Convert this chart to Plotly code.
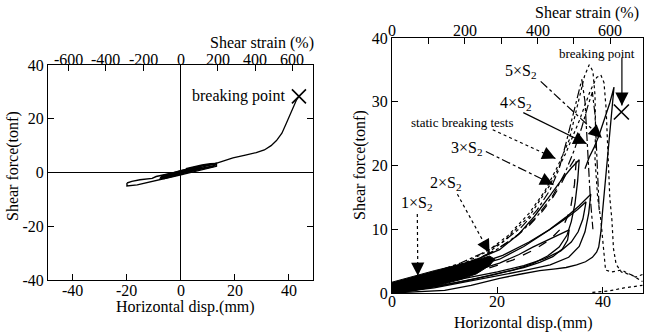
import plotly.graph_objects as go

W, H = 654, 336
FONT = "Liberation Serif"
T_RUBBER = 6.9  # mm, total rubber thickness used for the shear strain scale

# ---------------- left panel: breaking test ----------------
left_main_d = [0, 6, 12, 16, 19.4, 24, 28, 31, 33.5, 35.5, 37.5, 39.1, 40.5, 41.6, 42.8, 43.8]
left_main_f = [0, 1.5, 3.0, 4.3, 5.4, 6.5, 7.4, 8.4, 10.0, 11.9, 14.6, 18.2, 21.5, 24.2, 26.8, 28.3]

left_outer_d = [-19.8, -18, -15, -12, -10.5, -9, -6, -3, 0, 4, 8, 11, 13.3, 13.3, 11, 8, 5, 2, -1, -4, -7, -10, -13, -16, -19.8, -19.8]
left_outer_f = [-3.9, -3.3, -2.7, -2.3, -2.2, -1.5, -0.9, -0.2, 0.7, 1.7, 2.5, 3.0, 3.4, 2.3, 1.7, 1.0, 0.3, -0.4, -1.1, -1.8, -2.6, -3.3, -4.0, -4.6, -5.0, -3.9]

left_core_d = [-7, -4, -1, 2, 5, 7, 8, 6, 3, 0, -3, -6, -7.5, -7]
left_core_f = [-1.3, -0.5, 0.4, 1.2, 1.9, 2.2, 1.8, 1.0, 0.2, -0.7, -1.6, -2.3, -2.1, -1.3]

left_right_d = [2, 5, 8, 11, 13.3, 12, 9, 6, 3, 2]
left_right_f = [1.3, 2.1, 2.7, 3.1, 3.2, 2.3, 1.6, 1.0, 0.4, 1.3]

left_break = (43.8, 28.3)

left_disp_ticks = [-40, -20, 0, 20, 40]
left_force_ticks = [-40, -20, 0, 20, 40]
left_strain_ticks = [-600, -400, -200, 0, 200, 400, 600]

# ---------------- right panel: cyclic + static tests ----------------
wedge_d = [0, 2.5, 5, 8, 11, 14, 16.5, 18.5, 19.5, 18.5, 16, 13, 10, 7, 4, 1.5, 0]
wedge_f = [1.7, 2.3, 2.9, 3.5, 4.1, 4.7, 5.3, 5.8, 5.3, 4.3, 3.0, 2.1, 1.4, 0.8, 0.35, 0.1, 0]

solid_big_d = [0, 5, 10, 15, 20.4, 24, 28, 31, 33, 35, 36.7, 38, 38.8, 39.2, 39.6, 39.9, 40.3, 40.8, 41.2, 41.6, 42.1, 41.3, 40.3, 39.2, 38.3, 37.4, 36.6]
solid_big_f = [0, 0.2, 0.4, 1.2, 2.3, 2.9, 3.5, 3.8, 4.0, 4.4, 4.9, 5.6, 6.4, 7.2, 9.5, 12.5, 16, 21, 24.5, 28, 32.3, 29.8, 27.2, 24.6, 22.8, 21.3, 19.5]

solid_a_d = [0, 6, 12, 17, 20.4, 24, 27, 30, 32, 34, 35.5, 35.2, 34.7, 34.0, 33.2, 31.7, 29.5, 26.7, 23, 19, 14, 8, 3, 0]
solid_a_f = [1.0, 2.6, 4.1, 5.6, 6.8, 9.2, 12.0, 15.3, 17.6, 19.6, 20.9, 17.5, 14, 11.2, 9.1, 7.2, 5.8, 4.6, 3.6, 2.8, 1.9, 1.0, 0.3, 0]

solid_b_d = [0, 8, 15, 20.4, 25, 29.8, 33, 35.5, 37.7, 37.3, 36.6, 35.5, 33.5, 30, 25, 20, 14, 8, 0]
solid_b_f = [0.7, 2.5, 4.1, 5.3, 7.3, 9.9, 11.9, 13.7, 15.5, 12.5, 9.6, 7.3, 5.6, 4.4, 3.5, 2.7, 1.7, 0.8, 0]

solid_c_d = [0, 10, 16, 20.4, 24, 26.7, 29, 31, 33.6, 33.3, 32.3, 30.5, 28, 25, 21, 16, 9, 0]
solid_c_f = [0.5, 2.4, 3.6, 4.7, 6.0, 7.2, 8.1, 9.0, 9.9, 8.3, 6.9, 5.7, 4.8, 4.0, 3.2, 2.3, 1.1, 0]

solid_e_d = [0, 9, 16, 21, 26, 30, 33, 35.2, 36.8, 36.2, 35.3, 34, 32, 29, 25, 20, 14, 7, 0]
solid_e_f = [0.9, 2.9, 4.5, 5.9, 8.0, 10.0, 11.7, 13.1, 14.3, 11.6, 9.6, 8.0, 6.6, 5.4, 4.3, 3.3, 2.3, 1.2, 0.2]

dash_a_d = [8, 14, 19, 23, 26, 28.5, 30.5, 32, 33.5, 35, 34.6, 33.8, 32.5, 30, 27, 23, 18, 12, 5, 0]
dash_a_f = [2.8, 4.6, 6.4, 8.5, 10.6, 12.8, 15, 17, 19.5, 21.5, 17, 13, 10.5, 8.4, 6.8, 5.2, 3.8, 2.4, 1.0, 0.3]

dashdot_a_d = [3, 8, 13, 17, 21, 24.5, 27.5, 30, 31.7, 33, 34.2, 35.2, 36, 36.6, 36.9, 37.2, 37.6, 38.1]
dashdot_a_f = [1.8, 3.2, 4.7, 6.2, 8.0, 10.3, 13.0, 16.2, 19.5, 23.5, 27.5, 31, 33.5, 30, 25, 20, 15, 10]

dashdot_b_d = [5, 10, 15, 20, 24, 27.5, 30.5, 32.8, 34.6, 36, 37.2, 38, 38.5, 38.8, 39, 39.3]
dashdot_b_f = [1.8, 3.2, 4.8, 6.9, 9.2, 12, 15.3, 18.8, 22.5, 26, 29.5, 31.5, 28, 23, 18, 13]

dot_a_d = [0, 8, 14, 18, 22, 26, 29, 31.5, 33.6, 35.5, 36.5, 37.4, 38.1, 38.5, 38.6, 38.5, 39, 39.6, 40.2, 40.5, 41.7, 43.5, 46.2, 47.5]
dot_a_f = [1, 3, 4.8, 6.5, 9, 12.5, 16, 20, 24, 30.3, 34, 35.8, 34.8, 31, 26, 21, 15, 11.5, 6, 3.6, 3.3, 3.6, 2.5, 2.9]

dot_b_d = [0, 10, 16, 21, 26, 30, 33, 35.5, 37.5, 38.8, 39.6, 40.2, 40.6, 40.9, 41.3, 41.7, 42, 42.5, 43.5, 45.5, 47.5]
dot_b_f = [0.8, 3, 5, 8, 12, 17, 22, 27, 31.5, 33.8, 34.2, 33, 29, 22, 15, 11.5, 7, 4.5, 3.3, 2.8, 1.8]

dot_c_d = [38, 41, 44, 47.5]
dot_c_f = [0.1, 0.3, 0.8, 1.2]

right_break = (43.5, 28.4)

right_disp_ticks = [0, 20, 40]
right_force_ticks = [0, 10, 20, 30, 40]
right_strain_ticks = [0, 100, 200, 300, 400, 500, 600]
right_strain_labels = [0, 200, 400, 600]

# labels: (text, x, y, size)
right_labels = [
    ("5×S<sub>2</sub>", 24.5, 34.7, 16),
    ("4×S<sub>2</sub>", 23.6, 29.8, 16),
    ("static breaking tests", 13.4, 26.7, 13),
    ("3×S<sub>2</sub>", 14.2, 22.6, 16),
    ("2×S<sub>2</sub>", 10.3, 17.2, 16),
    ("1×S<sub>2</sub>", 4.7, 14.1, 16),
    ("breaking point", 38.9, 37.6, 13),
]

# leader lines: (x0, y0, x1 tip, y1 tip, dash)
right_leaders = [
    (28.2, 33.2, 39.8, 24.3, "dashdot"),
    (24.9, 28.3, 36.9, 23.4, "solid"),
    (19.1, 25.6, 31.0, 21.1, "dot"),
    (17.8, 22.2, 30.6, 17.0, "dashdot"),
    (12.4, 15.5, 18.5, 6.3, "dot"),
    (4.8, 12.4, 4.9, 2.7, "dot"),
    (43.6, 36.9, 43.6, 29.4, "solid"),
]

fig = go.Figure()


def add_line(x, y, xa, ya, dash="solid", width=1.2, fill=None):
    fig.add_trace(go.Scatter(
        x=x, y=y, xaxis=xa, yaxis=ya, mode="lines",
        line=dict(color="black", width=width, dash=dash),
        fill=fill, fillcolor="black" if fill else None,
        hoverinfo="skip", showlegend=False))


def add_cross(pt, xa, ya, size):
    fig.add_trace(go.Scatter(
        x=[pt[0]], y=[pt[1]], xaxis=xa, yaxis=ya, mode="markers",
        marker=dict(symbol="x-thin-open", size=size, color="black",
                    line=dict(color="black", width=1.6)),
        hoverinfo="skip", showlegend=False))


# left panel
add_line(left_outer_d, left_outer_f, "x", "y", width=1.4)
add_line(left_core_d, left_core_f, "x", "y", width=1.3, fill="toself")
add_line(left_right_d, left_right_f, "x", "y", width=2.2)
add_line(left_main_d, left_main_f, "x", "y", width=1.3)
add_cross(left_break, "x", "y", 14)
# anchor trace for the strain axis on top of the left panel
fig.add_trace(go.Scatter(x=[0], y=[0], xaxis="x3", yaxis="y", mode="markers",
                         marker=dict(opacity=0), hoverinfo="skip", showlegend=False))

# right panel
add_line(wedge_d, wedge_f, "x2", "y2", width=1.0, fill="toself")
for d, f in [(solid_a_d, solid_a_f), (solid_b_d, solid_b_f), (solid_c_d, solid_c_f),
             (solid_e_d, solid_e_f), (solid_big_d, solid_big_f)]:
    add_line(d, f, "x2", "y2", width=1.3)
add_line(dash_a_d, dash_a_f, "x2", "y2", dash="dash", width=1.3)
add_line(dashdot_a_d, dashdot_a_f, "x2", "y2", dash="dashdot", width=1.2)
add_line(dashdot_b_d, dashdot_b_f, "x2", "y2", dash="dashdot", width=1.2)
for d, f in [(dot_a_d, dot_a_f), (dot_b_d, dot_b_f), (dot_c_d, dot_c_f)]:
    add_line(d, f, "x2", "y2", dash="dot", width=1.2)
add_cross(right_break, "x2", "y2", 15)
fig.add_trace(go.Scatter(x=[0], y=[0], xaxis="x4", yaxis="y2", mode="markers",
                         marker=dict(opacity=0), hoverinfo="skip", showlegend=False))

annotations = []
for x0, y0, x1, y1, dash in right_leaders:
    add_line([x0, x1], [y0, y1], "x2", "y2", dash=dash, width=1.2)
    # short solid tail just behind the tip carries the filled arrowhead
    tx = x1 - (x1 - x0) * 0.12
    ty = y1 - (y1 - y0) * 0.12
    annotations.append(dict(x=x1, y=y1, ax=tx, ay=ty, xref="x2", yref="y2",
                            axref="x2", ayref="y2", text="", showarrow=True,
                            arrowhead=2, arrowsize=2.2, arrowwidth=1.2, arrowcolor="black"))

for text, x, y, size in right_labels:
    annotations.append(dict(x=x, y=y, xref="x2", yref="y2", text=text, showarrow=False,
                            font=dict(family=FONT, size=size, color="black")))

annotations.append(dict(x=21.5, y=28.3, xref="x", yref="y", text="breaking point",
                        showarrow=False, font=dict(family=FONT, size=16, color="black")))


def paper(px, py):
    return px / W, 1 - py / H


title_font = dict(family=FONT, size=16, color="black")
for text, px, py, angle, xanchor in [
    ("Horizontal disp.(mm)", 185, 307, 0, "center"),
    ("Horizontal disp.(mm)", 523, 323, 0, "center"),
    ("Shear strain (%)", 316, 43, 0, "right"),
    ("Shear strain (%)", 641, 13, 0, "right"),
    ("Shear force(tonf)", 13, 166, -90, "center"),
    ("Shear force(tonf)", 360, 165, -90, "center"),
]:
    xp, yp = paper(px, py)
    annotations.append(dict(x=xp, y=yp, xref="paper", yref="paper", text=text,
                            showarrow=False, textangle=angle, xanchor=xanchor,
                            yanchor="middle", font=title_font))

# horizontal-axis tick labels, set just outside the frames
tick_font = dict(family=FONT, size=16, color="black")
for vals, xref, py in [
    (left_disp_ticks, "x", 290),
    (left_strain_ticks, "x3", 59),
    (right_disp_ticks, "x2", 301),
    (right_strain_labels, "x4", 30),
]:
    for v in vals:
        annotations.append(dict(x=v, y=paper(0, py)[1], xref=xref, yref="paper",
                                text=str(v), showarrow=False, xanchor="center",
                                yanchor="middle", font=tick_font))

axis_common = dict(showgrid=False, showline=True, linecolor="black", linewidth=1,
                   ticks="inside", tickcolor="black", tickwidth=1, ticklen=6,
                   tickfont=tick_font, fixedrange=True, automargin=False)

lx0, ly1 = paper(48, 280)
lx1, ly0 = paper(313, 65)
rx0, ry1 = paper(392, 293)
rx1, ry0 = paper(643, 38)

left_range = [-49, 49]
right_range = [0, 47.6]

fig.update_layout(
    width=W, height=H, margin=dict(l=0, r=0, t=0, b=0, autoexpand=False),
    paper_bgcolor="white", plot_bgcolor="white", showlegend=False,
    annotations=annotations,
    xaxis=dict(axis_common, domain=[lx0, lx1], anchor="y", range=left_range,
               tickvals=left_disp_ticks, showticklabels=False, mirror=True,
               zeroline=True, zerolinecolor="black", zerolinewidth=1),
    yaxis=dict(axis_common, domain=[ly1, ly0], anchor="x", range=[-40, 40],
               tickvals=left_force_ticks, ticktext=[str(v) for v in left_force_ticks],
               mirror="ticks", zeroline=True, zerolinecolor="black", zerolinewidth=1),
    xaxis3=dict(axis_common, overlaying="x", side="top", anchor="y",
                range=[v / T_RUBBER * 100 for v in left_range],
                tickvals=left_strain_ticks, showticklabels=False, zeroline=False),
    xaxis2=dict(axis_common, domain=[rx0, rx1], anchor="y2", range=right_range,
                tickvals=right_disp_ticks, showticklabels=False, mirror=True, zeroline=False),
    yaxis2=dict(axis_common, domain=[ry1, ry0], anchor="x2", range=[0, 40],
                tickvals=right_force_ticks, ticktext=[str(v) for v in right_force_ticks],
                mirror="ticks", zeroline=False),
    xaxis4=dict(axis_common, overlaying="x2", side="top", anchor="y2",
                range=[v / T_RUBBER * 100 for v in right_range],
                tickvals=right_strain_ticks, showticklabels=False, zeroline=False),
)

fig.write_html("out.html")
